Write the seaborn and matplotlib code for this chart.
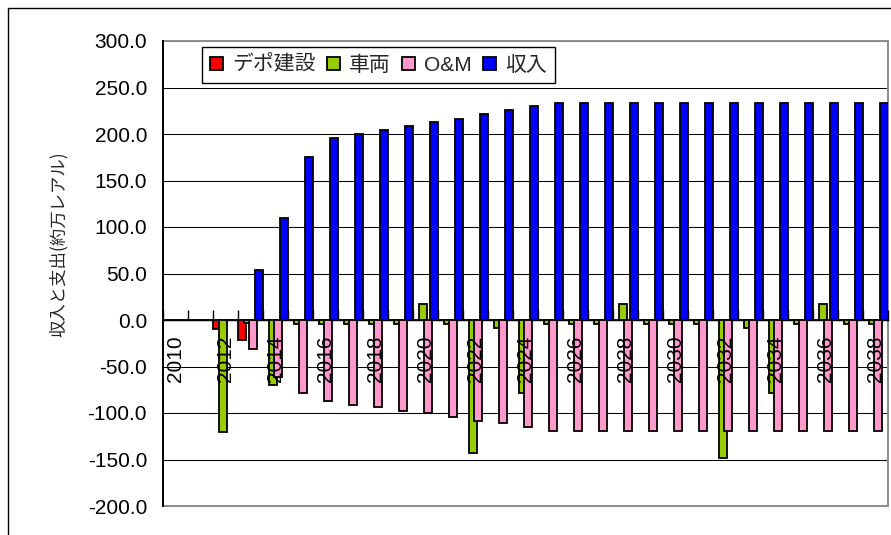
import numpy as np
import pandas as pd
import matplotlib
matplotlib.use("Agg")
import matplotlib.pyplot as plt
import seaborn as sns
from matplotlib.patches import Rectangle
from matplotlib.ticker import FixedLocator, FixedFormatter, FuncFormatter, NullFormatter

# ---- data (million reais) ----
years = list(range(2010, 2039))
series_names = ["デポ建設", "車両", "O&M", "収入"]
series_colors = ["#FF0000", "#99CC00", "#FF99CC", "#0000FF"]

depot = [0, 0, -10, -21.5] + [0] * 25
vehicles = [0, 0, -120, -3.5, -70, -4, -4, -4, -4, -4, 17, -4, -143.5, -9, -78.5,
            -4, -4, -4, 17, -4, -4, -4, -148, -9, -78.5, -4, 17, -4, -4]
om = [0, 0, 0, -31, -61.5, -78, -87, -91.5, -94, -98, -100, -104, -108.5, -111, -115] + [-119.5] * 14
revenue = [0, 0, 0, 54, 110, 175, 196, 200, 204, 208.5, 212.5, 216.5, 221, 225.5, 230] + [233] * 14

y_ticks = list(range(-200, 301, 50))
x_label_years = years[::2]
y_title = "収入と支出(約万レアル)"

df = pd.DataFrame({
    "year": [str(y) for y in years] * 4,
    "value": depot + vehicles + om + revenue,
    "series": np.repeat(series_names, len(years)),
})

# ---- style ----
sns.set_style("white")
plt.rcParams["font.family"] = ["Liberation Sans", "Noto Sans CJK JP", "DejaVu Sans"]

W, H = 891, 535
fig = plt.figure(figsize=(W / 100, H / 100), dpi=100)
ax = fig.add_axes([163 / W, 1 - 506 / H, (888 - 163) / W, (506 - 41) / H])

sns.barplot(data=df, x="year", y="value", hue="series", hue_order=series_names,
            palette=series_colors, saturation=1, dodge=True, width=1.0,
            edgecolor="black", linewidth=1.3, errorbar=None, ax=ax, zorder=3)

# overlapping clustered bars
step, bw = 0.228, 0.32
for k, cont in enumerate(ax.containers):
    for bar in cont:
        c = round(bar.get_x() + bar.get_width() / 2)
        bar.set_x(c + (k - 1.5) * step - bw / 2)
        bar.set_width(bw)

ax.set_xlim(-0.5, len(years) - 0.5)
ax.set_ylim(-200, 300)
ax.set_xlabel("")
ax.set_ylabel("")

# value axis
ax.yaxis.set_major_locator(FixedLocator(y_ticks))
ax.yaxis.set_major_formatter(FuncFormatter(lambda v, p: f"{v:.1f}"))
ax.tick_params(axis="y", which="major", left=True, length=0, pad=11.5,
               labelsize=15, labelcolor="black")
ax.yaxis.grid(True, color="black", linewidth=0.75)
ax.set_axisbelow(True)

# category axis crossing at zero, labels drawn over the bars
ax.xaxis.set_zorder(3.5)
ax.spines["bottom"].set_position(("data", 0))
ax.spines["bottom"].set_color("black")
ax.spines["bottom"].set_linewidth(1.0)
ax.spines["bottom"].set_zorder(2.5)
ax.spines["left"].set_color("black")
ax.spines["left"].set_linewidth(1.4)
ax.spines["top"].set_visible(False)
ax.spines["right"].set_visible(False)

ax.xaxis.set_major_locator(FixedLocator(np.arange(-0.5, len(years), 1.0)))
ax.xaxis.set_major_formatter(NullFormatter())
ax.xaxis.set_minor_locator(FixedLocator(np.arange(0, len(years), 2)))
ax.xaxis.set_minor_formatter(FixedFormatter([str(y) for y in x_label_years]))
ax.tick_params(axis="x", which="major", bottom=True, direction="in", length=7,
               width=1.0, color="black")
ax.tick_params(axis="x", which="minor", bottom=True, length=0, pad=11,
               labelsize=15, labelrotation=90, labelcolor="black")

# plot-area border
ax.add_patch(Rectangle((0, 0), 1, 1, transform=ax.transAxes, fill=False,
                       edgecolor="#8c8c8c", linewidth=1.4, zorder=1, clip_on=False))

# legend
sns.move_legend(ax, "upper left", bbox_to_anchor=((202 - 163) / 725, (506 - 47) / 465),
                ncol=4, title=None, frameon=True, fancybox=False, framealpha=1,
                edgecolor="black", fontsize=15, handlelength=0.6, handleheight=0.6,
                handletextpad=0.45, columnspacing=0.55, borderpad=0.4, borderaxespad=0)
ax.get_legend().get_frame().set_linewidth(1.0)
ax.get_legend().set_zorder(5)

# value-axis title
fig.text(59 / W, 1 - 244 / H, y_title, rotation=90, ha="center", va="center",
         fontsize=12.5, family=["Noto Sans CJK JP", "DejaVu Sans"])

# chart-area frame
fig.patches.append(Rectangle((7.5 / W, -0.2), 1.2, 1.2 - 7.5 / H, transform=fig.transFigure,
                             fill=False, edgecolor="black", linewidth=1.0))

fig.savefig("out.png", dpi=100, facecolor="white")
